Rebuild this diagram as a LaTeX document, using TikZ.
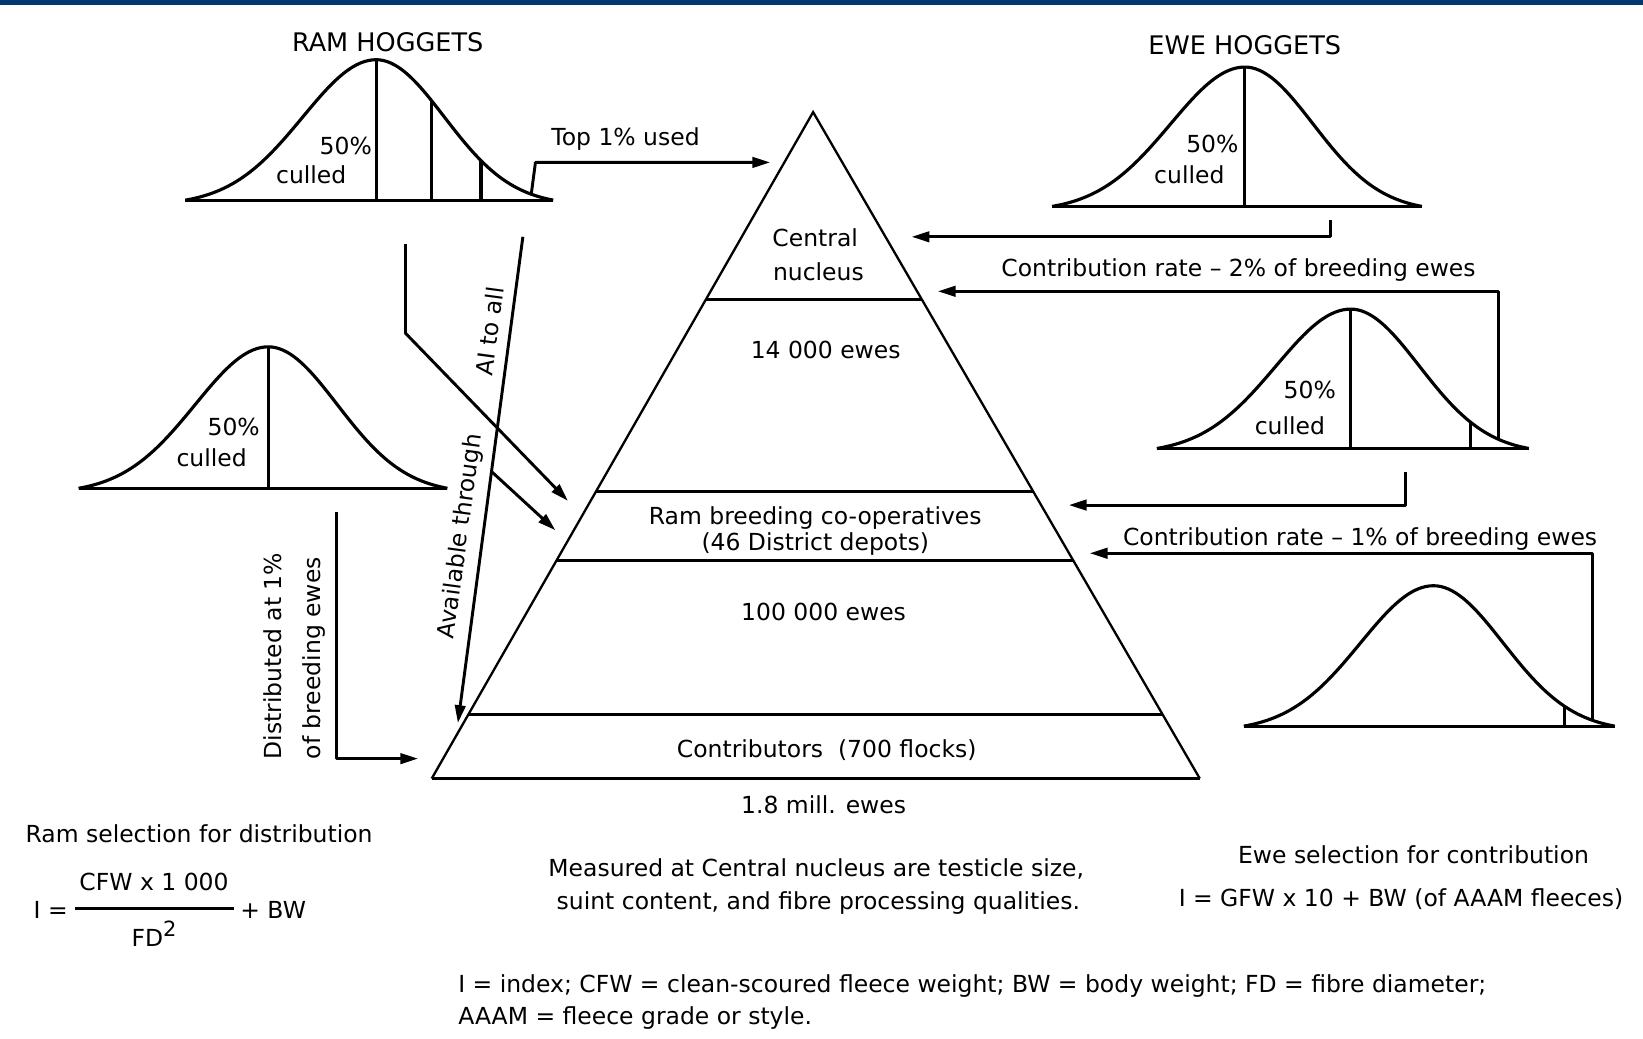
\documentclass[tikz,border=0pt]{standalone}
\usepackage{fontspec}
\setmainfont{DejaVu Sans}
\usetikzlibrary{arrows.meta,calc}
\definecolor{barblue}{RGB}{0,56,112}
\newcommand{\dfs}{\fontsize{11.2}{13}\selectfont}
\newcommand{\hfs}{\fontsize{12.2}{14}\selectfont}
% #1 left end, #2 mean, #3 right end, #4 baseline y, #5 height
\newcommand{\bellshape}[5]{%
  \draw[curve] plot[domain=#1:#2,samples=50,smooth] (\x,{#4-#5*bellv(\x,#2,#2-#1)})
     -- plot[domain=#2:#3,samples=50,smooth] (\x,{#4-#5*bellv(\x,#2,#3-#2)});
  \draw[curve] (#1,#4) -- (#3,#4);
}
\newcommand{\bellcurve}[5]{%
  \bellshape{#1}{#2}{#3}{#4}{#5}
  \draw[curve] (#2,#4) -- (#2,#4-#5);
}
\begin{document}
\begin{tikzpicture}[x=0.5pt,y=-0.5pt,
  curve/.style={line width=1.5pt, line join=round},
  pyr/.style={line width=1.1pt},
  lvl/.style={line width=1.7pt},
  conn/.style={line width=1.4pt, line join=round},
  arr/.style={conn, -{Triangle[length=8.5pt,width=5pt]}},
  txt/.style={inner sep=0pt, font=\dfs},
  htxt/.style={inner sep=0pt, font=\hfs},
  declare function={bellv(\x,\m,\w)=(exp(-0.5*((\x-\m)*2.6/\w)^2)-0.034)/0.966;}
]
\useasboundingbox (0,0) rectangle (1568,991);
\fill[barblue] (0,0) rectangle (1568,5);

% ---------- bell curves ----------
% RAM HOGGETS
\bellcurve{177}{359}{528}{191}{134}
\draw[curve] (412,191) -- (412,{191-134*bellv(412,359,169)});
\draw[curve] (459,191) -- (459,{191-134*bellv(459,359,169)});
\coordinate (r1tail) at (507,{191-134*bellv(507,359,169)});
% left ram curve
\bellcurve{75}{256}{427}{466}{135}
% EWE HOGGETS
\bellcurve{1004}{1188}{1357}{197}{133}
% ewe curve 2
\bellcurve{1104}{1289}{1459}{428}{133}
\draw[curve] (1403,428) -- (1403,{428-133*bellv(1403,1289,170)});
\coordinate (e2tail) at (1430,{428-133*bellv(1430,1289,170)});
% ewe curve 3 (no mean line)
\bellshape{1187}{1368}{1541}{693}{134}
\draw[curve] (1493,693) -- (1493,{693-134*bellv(1493,1368,173)});
\coordinate (e3tail) at (1520,{693-134*bellv(1520,1368,173)});

% ---------- pyramid ----------
\coordinate (apex) at (776,107);
\coordinate (bl) at (412,743);
\coordinate (br) at (1145,743);
\draw[pyr] (bl) -- (apex) -- (br);
\draw[lvl] (bl) -- (br);
\draw[lvl] ($(apex)!0.2814!(bl)$) -- ($(apex)!0.2814!(br)$);
\draw[lvl] ($(apex)!0.5692!(bl)$) -- ($(apex)!0.5692!(br)$);
\draw[lvl] ($(apex)!0.6730!(bl)$) -- ($(apex)!0.6730!(br)$);
\draw[lvl] ($(apex)!0.9041!(bl)$) -- ($(apex)!0.9041!(br)$);

\node[txt] (central) at (778,227) {Central};
\node[txt] (nucleus) at (781,259) {nucleus};
\node[txt] (ewes14) at (788,334) {14 000 ewes};
\node[txt] (rambr) at (778,494) {Ram breeding co-operatives};
\node[txt] (depots) at (778,519) {(46 District depots)};
\node[txt] (ewes100) at (786,584) {100 000 ewes};
\node[txt] (contrib) at (789,716) {Contributors~~(700 flocks)};
\node[txt] (mill) at (786,768) {1.8 mill. ewes};

% ---------- curve labels ----------
\node[htxt] (ramhog) at (370,40) {RAM HOGGETS};
\node[txt] (r1pct) at (330,139) {50\%};
\node[txt] (r1cul) at (297,167) {culled};
\node[htxt] (ewehog) at (1188,43) {EWE HOGGETS};
\node[txt] (e1pct) at (1157,137) {50\%};
\node[txt] (e1cul) at (1135,167) {culled};
\node[txt] (e2pct) at (1250,372) {50\%};
\node[txt] (e2cul) at (1231,406) {culled};
\node[txt] (r2pct) at (223,407) {50\%};
\node[txt] (r2cul) at (202,437) {culled};

% ---------- connectors ----------
\coordinate (topend) at (735,155);
\draw[arr] (r1tail) -- (511,155) -- (topend);
\node[txt] (topused) at (597,133) {Top 1\% used};

\coordinate (e1start) at (1270,210);
\coordinate (e1end) at (870,226);
\draw[arr] (e1start) -- (e1start |- e1end) -- (e1end);

\coordinate (e2end) at (895,278);
\draw[arr] (e2tail) -- (e2tail |- e2end) -- (e2end);
\node[txt] (cont2) at (1182,258) {Contribution rate \textendash\ 2\% of breeding ewes};

\coordinate (e3start) at (1341,450);
\coordinate (e3end) at (1020,482);
\draw[arr] (e3start) -- (e3start |- e3end) -- (e3end);

\coordinate (e4end) at (1040,528);
\draw[arr] (e3tail) -- (e3tail |- e4end) -- (e4end);
\node[txt] (cont1) at (1298,514) {Contribution rate \textendash\ 1\% of breeding ewes};

\coordinate (rstart) at (387,233);
\coordinate (rbend) at (387,318);
\coordinate (rend) at (542,478);
\draw[arr] (rstart) -- (rbend) -- (rend);

\coordinate (aitop) at (499,226);
\coordinate (aibot) at (437,690);
\draw[arr] (aitop) -- (aibot);
\coordinate (branch) at ($(aitop)!0.4828!(aibot)$);
\coordinate (brend) at (530,506);
\draw[arr] (branch) -- (brend);
\node[txt, rotate=82.4] (aitoall) at (467,316) {AI to all};
\node[txt, rotate=82.4] (avail) at (440,512) {Available through};

\coordinate (dstart) at (321,489);
\coordinate (dend) at (399,724);
\draw[arr] (dstart) -- (dstart |- dend) -- (dend);
\node[txt, rotate=90, anchor=west] (dist1) at (260,725) {Distributed at 1\%};
\node[txt, rotate=90, anchor=west] (dist2) at (300,725) {of breeding ewes};

% ---------- bottom texts ----------
\node[txt] (ramsel) at (190,796) {Ram selection for distribution};
\node[txt, anchor=east] (feq) at (65,868) {I =};
\node[txt] (fnum) at (147,842) {CFW x 1 000};
\draw[line width=1pt] (72,867) -- (223,867);
\node[txt] (fden) at (147,891) {FD\raisebox{5pt}{\fontsize{10}{10}\selectfont 2}};
\node[txt, anchor=west] (fbw) at (229,868) {+ BW};

\node[txt] (meas1) at (779,829) {Measured at Central nucleus are testicle size,};
\node[txt] (meas2) at (781,862) {suint content, and fibre processing qualities.};

\node[txt] (ewesel) at (1349,816) {Ewe selection for contribution};
\node[txt] (ewef) at (1337,858) {I = GFW x 10 + BW (of AAAM fleeces)};

\node[txt, anchor=west] (leg1) at (437,941) {I = index; CFW = clean-scoured fleece weight; BW = body weight; FD = fibre diameter;};
\node[txt, anchor=west] (leg2) at (437,972) {AAAM = fleece grade or style.};
\end{tikzpicture}
\end{document}
